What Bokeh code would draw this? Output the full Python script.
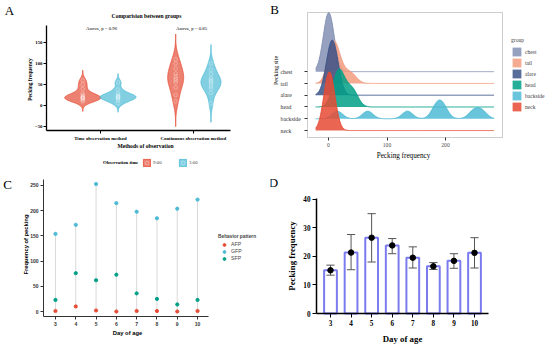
import numpy as np
from bokeh.plotting import figure
from bokeh.models import Range1d, Label, Legend, LegendItem, FixedTicker, BoxAnnotation
from bokeh.layouts import column, row
from bokeh.embed import file_html
from bokeh.resources import INLINE

# ---------------- data ----------------
# Panel A : violin samples (pecking frequency) per method x observation time
A_groups = ["Time observation method", "Continuous observation method"]
A_times = ["9:00", "3:00"]
A_time_900 = [10, 12, 15, 17, 18, 19, 20, 22, 25, 29, 40, 50, 60]
A_time_300 = [5, 12, 15, 18, 20, 21, 22, 25, 29, 38, 55]
A_cont_900 = [10, 25, 43, 55, 60, 64, 70, 76, 88, 100, 110]
A_cont_300 = [5, 30, 40, 45, 50, 55, 58, 62, 65, 75, 85, 100]
A_pvalues = ["0.96", "0.85"]

# Panel B : ridgeline samples per pecking site
B_sites = ["chest", "tail", "alare", "head", "backside", "neck"]
B_chest = [-3, -1, 0, 0, 1, 2, 4]
B_tail = [3, 5, 7, 8, 9, 10, 11, 13, 18, 25, 35, 42]
B_alare = [0, 3, 5, 6, 8, 10, 13]
B_head = [10, 13, 15, 16, 17, 18, 19, 21, 24, 30, 36, 40, 42, 46]
B_backside = [15, 67, 135, 183, 190, 197, 248, 262]
B_neck = [-2, 0, 1, 2, 3, 5]

# Panel C : frequency of pecking by behaviour pattern
C_days = [3, 4, 5, 6, 7, 8, 9, 10]
C_AFP = [1, 10, 2, 0, 1, 1, 0, 1]
C_GFP = [154, 172, 253, 215, 198, 185, 204, 222]
C_SFP = [23, 76, 62, 73, 36, 25, 14, 23]

# Panel D : mean pecking frequency with error bars
D_days = [3, 4, 5, 6, 7, 8, 9, 10]
D_mean = [15.1, 21.3, 26.5, 23.8, 19.5, 16.5, 18.4, 21.2]
D_low = [13.4, 15.3, 18.0, 20.9, 15.9, 15.4, 15.8, 15.9]
D_high = [16.9, 27.6, 34.9, 26.2, 23.3, 17.8, 20.9, 26.5]

# ---------------- helpers ----------------
SERIF = "Liberation Serif"
SANS = "Liberation Sans"
NPG = {"red": "#E64B35", "blue": "#4DBBD5", "teal": "#00A087",
       "navy": "#3C5488", "salmon": "#F39B7F", "lav": "#8491B4"}


def kde(samples, grid, bw):
    s = np.asarray(samples, float)[:, None]
    k = np.exp(-0.5 * ((grid[None, :] - s) / bw) ** 2)
    return k.sum(0) / (len(samples) * bw * np.sqrt(2 * np.pi))


class Panel:
    """A figure whose frame covers the whole panel; the plotting area is a sub-box
    (page pixels) drawn with fixed-location, bounded axes."""
    def __init__(self, box, frame, xr, yr):
        PL, PR, PT, PB = box
        fl, fr, ft, fb = frame
        ux = (xr[1] - xr[0]) / (fr - fl)
        uy = (yr[1] - yr[0]) / (fb - ft)
        self.full_x = (xr[0] - (fl - PL) * ux, xr[1] + (PR - fr) * ux)
        self.full_y = (yr[0] - (PB - fb) * uy, yr[1] + (ft - PT) * uy)
        self.box = box
        self.xr, self.yr = xr, yr
        self.ux, self.uy = ux, uy
        p = figure(width=PR - PL, height=PB - PT,
                   x_range=Range1d(*self.full_x), y_range=Range1d(*self.full_y),
                   output_backend="svg", toolbar_location=None,
                   min_border_left=0, min_border_right=0, min_border_top=0, min_border_bottom=0)
        p.xgrid.visible = False
        p.ygrid.visible = False
        p.outline_line_color = None
        p.background_fill_color = "white"
        p.border_fill_color = "white"
        p.xaxis.fixed_location = yr[0]
        p.xaxis.bounds = xr
        p.yaxis.fixed_location = xr[0]
        p.yaxis.bounds = yr
        self.p = p

    def data(self, px, py):
        x = self.full_x[0] + (px - self.box[0]) * self.ux
        y = self.full_y[1] - (py - self.box[2]) * self.uy
        return x, y

    def screen(self, px, py):
        """page pixel -> this figure's own pixel (from left, from bottom)"""
        return px - self.box[0], self.box[3] - py

    def label(self, px, py, text, size, font=SERIF, style="normal", align="center",
              angle=0.0, color="black"):
        x, y = self.data(px, py)
        self.p.add_layout(Label(x=x, y=y, text=text, text_font=font, text_font_size=f"{size}px",
                                text_font_style=style, text_align=align, text_baseline="middle",
                                angle=angle, text_color=color))


def style_axis(ax, font, size, bold, color="black", line_color="black", line_w=1.0,
               tick_out=3, standoff=2):
    ax.axis_line_color = line_color
    ax.axis_line_width = line_w
    ax.major_tick_out = tick_out
    ax.major_tick_in = 0
    ax.minor_tick_out = 0
    ax.minor_tick_in = 0
    ax.major_tick_line_color = line_color if line_color else "#333333"
    ax.major_tick_line_width = 1
    ax.major_label_text_font = font
    ax.major_label_text_font_size = f"{size}px"
    ax.major_label_text_font_style = "bold" if bold else "normal"
    ax.major_label_text_color = color
    ax.major_label_standoff = standoff


# ---------------- Panel A ----------------
PA = Panel((0, 270, 0, 174), (46, 230, 25, 130), (0.42, 2.40), (-59.5, 190.5))
pA = PA.p
dodge = 0.19
violins = [
    (A_time_900, 1 - dodge, 8, 0.194, NPG["red"]),
    (A_time_300, 1 + dodge, 7, 0.194, NPG["blue"]),
    (A_cont_900, 2 - dodge, 20, 0.086, NPG["red"]),
    (A_cont_300, 2 + dodge, 15, 0.108, NPG["blue"]),
]
legA_r = {}
for samples, cx, bw, hw, col in violins:
    s = np.asarray(samples, float)
    grid = np.linspace(s.min() - 3 * bw, s.max() + 3 * bw, 200)
    d = kde(s, grid, bw)
    w = d / d.max() * hw
    xs = np.concatenate([cx - w, (cx + w)[::-1]])
    ys = np.concatenate([grid, grid[::-1]])
    r = pA.patch(xs, ys, fill_color=col, fill_alpha=0.7, line_color=col, line_width=0.8)
    c = pA.scatter(np.full(len(s), cx), s, size=3.6, marker="circle", fill_color=None,
                   line_color="white", line_alpha=0.4, line_width=0.7)
    if col not in legA_r:
        legA_r[col] = [r, c]

pA.yaxis.ticker = FixedTicker(ticks=[-50, 0, 50, 100, 150])
pA.xaxis.ticker = FixedTicker(ticks=[1, 2])
pA.xaxis.major_label_overrides = {1: A_groups[0], 2: A_groups[1]}
style_axis(pA.yaxis[0], SERIF, 4.8, True, line_w=1.3, standoff=1)
style_axis(pA.xaxis[0], SERIF, 4.8, True, line_w=1.3, standoff=2)
PA.label(29.5, 79, "Pecking frequency", 5.4, style="bold", angle=np.pi / 2)
PA.label(145, 145, "Methods of observation", 5.6, style="bold")
PA.label(146, 15, "Comparision between groups", 5.6, style="bold")
PA.label(101, 28, "Anova, p = " + A_pvalues[0], 4.8)
PA.label(191, 28, "Anova, p = " + A_pvalues[1], 4.8)
PA.label(9, 10, "A", 13)
PA.label(138, 162, "Observation time", 4.8, style="bold", align="right")
vx, vy = PA.screen(142, 166.5)
legA = Legend(items=[LegendItem(label=A_times[0], renderers=legA_r[NPG["red"]]),
                     LegendItem(label=A_times[1], renderers=legA_r[NPG["blue"]])],
              location=(vx, vy), orientation="horizontal", padding=0, margin=0,
              spacing=5, glyph_width=9, glyph_height=9, label_standoff=2,
              label_text_font=SERIF, label_text_font_size="4.8px",
              border_line_color=None, background_fill_alpha=0)
pA.add_layout(legA)

# ---------------- Panel B ----------------
PB = Panel((270, 550, 0, 174), (307, 502, 12, 137), (-35.9, 297.4), (-0.59, 10.02))
pB = PB.p
gridB = np.linspace(-22, 283, 600)
ridge_samples = [B_chest, B_tail, B_alare, B_head, B_backside, B_neck]
ridge_cols = [NPG["lav"], NPG["salmon"], NPG["navy"], NPG["teal"], NPG["blue"], NPG["red"]]
bwB = 9.0
dens = [kde(s, gridB, bwB) for s in ridge_samples]
scaleB = 5.0 / max(d.max() for d in dens)
itemsB = []
n_sites = len(B_sites)
for i, (name, d, col) in enumerate(zip(B_sites, dens, ridge_cols)):
    base = n_sites - 1 - i
    top = base + d * scaleB
    r = pB.varea(x=gridB, y1=np.full(len(gridB), base), y2=top, fill_color=col, fill_alpha=0.85)
    pB.line(gridB, top, line_color=col, line_width=1)
    itemsB.append(LegendItem(label=name, renderers=[r]))
pB.add_layout(BoxAnnotation(left=PB.xr[0], right=PB.xr[1], bottom=PB.yr[0], top=PB.yr[1],
                            fill_alpha=0, line_color="#5a5a5a", line_width=1))
pB.xaxis.ticker = FixedTicker(ticks=[0, 100, 200])
pB.yaxis.ticker = FixedTicker(ticks=list(range(n_sites)))
pB.yaxis.major_label_overrides = {k: "" for k in range(n_sites)}
style_axis(pB.xaxis[0], SERIF, 5.6, False, color="#4d4d4d", line_color=None, standoff=2)
style_axis(pB.yaxis[0], SERIF, 5.6, False, color="#4d4d4d", line_color=None, standoff=1)
pB.xaxis.major_tick_line_color = "#333333"
pB.yaxis.major_tick_line_color = "#333333"
for i, name in enumerate(B_sites):
    PB.label(280, 71.2 + 11.8 * i, name, 5.8, align="left", color="#333333")
PB.label(275.5, 70, "Pecking site", 6, angle=np.pi / 2)
PB.label(403, 155, "Pecking frequency", 7.2)
PB.label(274, 9, "B", 13)
vx, vy = PB.screen(511, 112)
legB = Legend(items=itemsB, title="group", location=(vx, vy), padding=0, margin=0,
              spacing=0, glyph_width=11, glyph_height=11, label_standoff=3,
              label_text_font=SERIF, label_text_font_size="5.6px",
              title_text_font=SERIF, title_text_font_size="5.6px", title_text_font_style="normal",
              title_standoff=3, border_line_color=None, background_fill_alpha=0)
pB.add_layout(legB)

# ---------------- Panel C ----------------
PC = Panel((0, 270, 174, 348), (43, 208, 179, 316), (2.41, 10.54), (-9.9, 261.9))
pC = PC.p
pC.segment(x0=C_days, y0=C_AFP, x1=C_days, y1=C_GFP, line_color="#d9d9d9", line_width=1)
rA = pC.scatter(C_days, C_AFP, size=3.2, marker="circle", color=NPG["red"])
rG = pC.scatter(C_days, C_GFP, size=3.2, marker="circle", color=NPG["blue"])
rS = pC.scatter(C_days, C_SFP, size=3.2, marker="circle", color=NPG["teal"])
pC.xaxis.ticker = FixedTicker(ticks=C_days)
pC.yaxis.ticker = FixedTicker(ticks=[0, 50, 100, 150, 200, 250])
style_axis(pC.xaxis[0], SANS, 5, True, color="#333333", line_color="#333333", standoff=2)
style_axis(pC.yaxis[0], SANS, 5, True, color="#333333", line_color="#333333", standoff=2)
PC.label(127, 332, "Day of age", 5.8, font=SANS, style="bold")
PC.label(25, 244, "Frequency of pecking", 5.8, font=SANS, style="bold", angle=np.pi / 2)
PC.label(7, 184, "C", 13)
vx, vy = PC.screen(218, 261.5)
legC = Legend(items=[LegendItem(label="AFP", renderers=[rA]),
                     LegendItem(label="GFP", renderers=[rG]),
                     LegendItem(label="SFP", renderers=[rS])],
              title="Behavior pattern", location=(vx, vy), padding=0, margin=0,
              spacing=0, glyph_width=12, glyph_height=7, label_standoff=1,
              label_text_font=SANS, label_text_font_size="5.2px",
              title_text_font=SANS, title_text_font_size="4.8px", title_text_font_style="bold",
              title_standoff=2, border_line_color=None, background_fill_alpha=0)
pC.add_layout(legC)

# ---------------- Panel D ----------------
PD = Panel((270, 550, 174, 348), (316, 488, 198, 313), (2.32, 10.68), (0, 40.2))
pD = PD.p
pD.vbar(x=D_days, top=D_mean, width=0.62, bottom=0, fill_color="white",
        line_color="#7B7BF0", line_width=2)
cap = 0.2
pD.segment(x0=D_days, y0=D_low, x1=D_days, y1=D_high, line_color="#555555", line_width=1)
pD.segment(x0=[d - cap for d in D_days], y0=D_high, x1=[d + cap for d in D_days], y1=D_high,
           line_color="#555555", line_width=1)
pD.segment(x0=[d - cap for d in D_days], y0=D_low, x1=[d + cap for d in D_days], y1=D_low,
           line_color="#555555", line_width=1)
pD.scatter(D_days, D_mean, size=5.5, marker="circle", color="black")
pD.xaxis.ticker = FixedTicker(ticks=D_days)
pD.yaxis.ticker = FixedTicker(ticks=[0, 10, 20, 30, 40])
style_axis(pD.xaxis[0], SERIF, 7.2, True, line_w=1.5, tick_out=4, standoff=2)
style_axis(pD.yaxis[0], SERIF, 7.2, True, line_w=1.5, tick_out=4, standoff=2)
PD.label(402, 338, "Day of age", 8.8, style="bold")
PD.label(291.5, 255.5, "Pecking frequency", 8.8, style="bold", angle=np.pi / 2)
PD.label(273, 182, "D", 13)

layout = column(row(pA, pB), row(pC, pD))
open("out.html", "w").write(file_html(layout, INLINE))
